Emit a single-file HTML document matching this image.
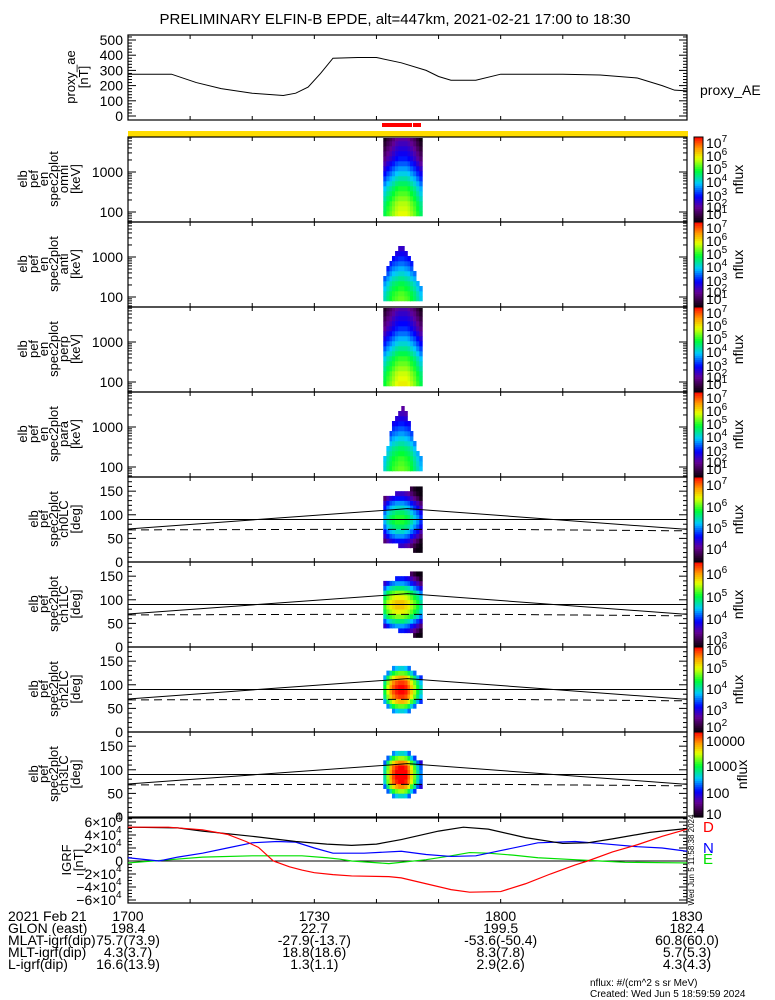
<!DOCTYPE html>
<html><head><meta charset="utf-8"><style>
html,body{margin:0;padding:0;background:#fff;}
svg{display:block;font-family:"Liberation Sans",sans-serif;}
</style></head><body>
<svg id="fig" width="775" height="1000" viewBox="0 0 775 1000" xmlns="http://www.w3.org/2000/svg">
<text x="395" y="24" font-size="15" text-anchor="middle">PRELIMINARY ELFIN-B EPDE, alt=447km, 2021-02-21 17:00 to 18:30</text>
<g id="g"></g>
</svg>
<script>
// ---------- data ----------
const aeTimes = [0,7,11,15,20,25,27,29,31,33,37,40,44,48,50,52,56,60,70,76,82,86,88,90];
const aeValues = [275,275,220,180,150,135,150,190,280,380,385,385,350,300,260,235,235,275,275,270,250,200,170,165];
const specColTimes = [41.1,41.6,42.1,42.5,43.0,43.5,44.0,44.5,45.0,45.4,45.9,46.4,46.9];
const omniSpec = [5.2,5.1,5.0,4.8,4.6,4.4,4.1,3.8,3.5,3.2,2.9,2.6,2.4,2.2,2.0,1.8];
const omniCol = [-0.7,-0.4,-0.2,0,0.2,0.3,0.3,0.3,0.2,0,-0.2,-0.5,-0.8];
const omniMax = [16,16,16,16,16,16,16,16,16,16,16,16,16];
const antiSpec = [4.8,4.7,4.5,4.3,4.0,3.7,3.4,3.1,2.8,2.5,2.2,2.0,1.8,1.6,1.4,1.2];
const antiCol = [-0.8,-0.5,-0.2,0,0.1,0.2,0.2,0.1,0,-0.2,-0.4,-0.7,-1.0];
const antiMax = [5,7,8,9,10,11,11,10,9,8,6,4,3];
const perpSpec = [5.3,5.2,5.1,4.9,4.7,4.5,4.2,3.9,3.6,3.3,3.0,2.7,2.5,2.3,2.1,1.9];
const perpCol = [-0.7,-0.4,-0.2,0,0.2,0.3,0.3,0.3,0.2,0,-0.2,-0.5,-0.8];
const perpMax = [16,16,16,16,16,16,16,16,16,16,16,16,16];
const paraSpec = [4.8,4.7,4.6,4.4,4.2,3.9,3.6,3.3,3.0,2.7,2.4,2.1,1.9,1.7,1.5,1.3];
const paraCol = [-0.9,-0.5,-0.2,0,0.1,0.2,0.2,0.1,0,-0.2,-0.5,-0.8,-1.1];
const paraMax = [3,5,8,10,11,12,13,12,10,8,6,4,3];
const pa01Lo = [45,43,41,39,37,35,33,31,29,27,25,22,20];
const pa01Hi = [138,140,142,144,146,148,150,152,154,155,156,157,159];
const pa23Lo = [60,55,50,45,43,42,42,43,45,50,55,60,65];
const pa23Hi = [120,125,130,135,137,138,138,137,135,130,125,120,115];
const ch0Prof = [3.5,3.6,3.8,4.0,4.3,4.7,5.0,5.3,5.5,5.5,5.3,5.0,4.7,4.3,4.0,3.8,3.6,3.5];
const ch0Col = [-0.5,-0.2,0,0.1,0.2,0.2,0.2,0.1,0,-0.2,-0.4,-0.6,-0.9];
const ch1Prof = [2.8,3.0,3.3,3.7,4.1,4.6,5.1,5.4,5.6,5.6,5.4,5.1,4.6,4.1,3.7,3.3,3.0,2.8];
const ch1Col = [-0.5,-0.2,0,0.1,0.2,0.2,0.2,0.1,0,-0.2,-0.4,-0.6,-0.9];
const ch2Prof = [2,2.3,2.7,3.2,3.8,4.6,5.3,5.8,6.0,6.0,5.8,5.3,4.6,3.8,3.2,2.7,2.3,2];
const ch2Col = [-1.6,-1.0,-0.5,-0.2,0,0.1,0.1,0,-0.3,-0.7,-1.1,-1.6,-2.0];
const ch3Prof = [1,1.3,1.6,2.0,2.5,3.2,3.8,4.2,4.3,4.3,4.2,3.8,3.2,2.5,2.0,1.6,1.3,1];
const ch3Col = [-1.6,-1.0,-0.5,-0.2,0,0.1,0.1,0,-0.3,-0.7,-1.1,-1.6,-2.0];
const lcTimes = [0,45,90];
const lcUpper = [70,113,69];
const lcDashTimes = [0,30,60,90];
const lcDash = [68,69,69,66];
const bTotT = [0,8,12,20,27,32,36,40,44,50,54,58,64,70,74,78,84,90];
const bTot = [5.2,5.1,4.6,3.8,3.0,2.6,2.4,2.6,3.3,4.6,5.2,4.9,3.6,2.7,2.8,3.4,4.4,5.0];
const bDT = [0,6.5,12,16,19,21,23.4,26,28,30,33,36,42,44,48,52,55,60,64,68,72,74,78,82,86,90];
const bD = [5.2,5.2,4.8,4.1,3.0,2.1,0,-0.9,-1.4,-1.8,-2.1,-2.3,-2.4,-2.6,-3.5,-4.4,-4.8,-4.7,-3.5,-2.0,-0.6,0,1.4,2.5,3.8,4.9];
const bNT = [0,5,8,12,16,20,24,27,30,33,38,44,48,52,56,60,66,72,76,82,86,90];
const bN = [0.5,0,0.6,1.2,2.0,2.8,3.0,2.9,2.0,1.2,1.2,1.5,1.0,0.7,0.8,1.6,2.8,3.0,2.7,2.2,2.0,1.5];
const bET = [0,4,8,12,20,28,32,34,36,42,48,52,55,58,62,66,72,76,80,90];
const bE = [-0.3,0,0.3,0.6,0.8,0.8,0.5,0.3,0,-0.4,0.2,0.8,1.3,1.2,0.9,0.5,0.2,0,-0.2,-0.3];
const rowLabels = ["2021 Feb 21","GLON (east)","MLAT-igrf(dip)","MLT-igrf(dip)","L-igrf(dip)"];
const col1700 = ["1700","198.4","75.7(73.9)","4.3(3.7)","16.6(13.9)"];
const col1730 = ["1730","22.7","-27.9(-13.7)","18.8(18.6)","1.3(1.1)"];
const col1800 = ["1800","199.5","-53.6(-50.4)","8.3(7.8)","2.9(2.6)"];
const col1830 = ["1830","182.4","60.8(60.0)","5.7(5.3)","4.3(4.3)"];

// ---------- helpers ----------
const NS="http://www.w3.org/2000/svg";
const G=document.getElementById('g');
const X0=128,X1=687;
const xT=t=>X0+t/90*(X1-X0);
function mk(tag,attrs,parent){const e=document.createElementNS(NS,tag);for(const k in attrs)e.setAttribute(k,attrs[k]);(parent||G).appendChild(e);return e;}
function txt(s,x,y,attrs,parent){const e=mk('text',Object.assign({x:x,y:y,'font-size':14},attrs||{}),parent);e.textContent=s;return e;}
const stops=[[0,[10,0,15]],[0.07,[50,0,60]],[0.17,[100,0,150]],[0.3,[0,0,255]],[0.45,[0,200,255]],[0.6,[0,255,50]],[0.75,[230,255,0]],[0.86,[255,160,0]],[1,[255,0,0]]];
function cmap(t){t=Math.max(0,Math.min(1,t));for(let i=1;i<stops.length;i++){if(t<=stops[i][0]){const a=stops[i-1],b=stops[i];const f=(t-a[0])/(b[0]-a[0]);const c=a[1].map((v,k)=>Math.round(v+(b[1][k]-v)*f));return `rgb(${c[0]},${c[1]},${c[2]})`;}}return 'rgb(255,0,0)';}

function frame(top,h,name){
  const r=mk('rect',{x:X0,y:top,width:X1-X0,height:h,fill:'none',stroke:'#000','stroke-width':1.2});
  
  
  for(let t=10;t<90;t+=10){
    mk('line',{x1:xT(t),x2:xT(t),y1:top,y2:top+4,stroke:'#000'});
    mk('line',{x1:xT(t),x2:xT(t),y1:top+h,y2:top+h-4,stroke:'#000'});
  }
}
function yTick(y,len){mk('line',{x1:X0,x2:X0+len,y1:y,y2:y,stroke:'#000'});mk('line',{x1:X1,x2:X1-len,y1:y,y2:y,stroke:'#000'});}
function leftLabel(lines,xs,cy,name){
  const gg=mk('g',{});
  
  
  lines.forEach((s,i)=>{txt(s,0,0,{'text-anchor':'middle','font-size':13,transform:`translate(${xs[i]+5},${cy}) rotate(-90)`},gg);});
}

// ---------- top panel: proxy AE ----------
(function(){
  const top=35,h=85;
  const yv=v=>116-v*0.152;
  frame(top,h,'proxy-ae-panel');
  for(let v=0;v<=520;v+=20){ if(yv(v)>top) yTick(yv(v),v%100===0?8:4);}
  [0,100,200,300,400,500].forEach(v=>{const e=txt(String(v),123,yv(v)+5,{'text-anchor':'end'});});
  const pts=aeTimes.map((t,i)=>xT(t)+','+yv(aeValues[i])).join(' ');
  const l=mk('polyline',{points:pts,fill:'none',stroke:'#000','stroke-width':1});
  
  
  leftLabel(['proxy_ae','[nT]'],[70,83],77,'proxy-ae-y-axis-title');
  const lt=txt('proxy_AE',700,95,{});
  
  
})();
// science zone bars
(function(){
  const r1=mk('rect',{x:382,y:123,width:30,height:4,fill:'#ff0000'});
  
  
  const r2=mk('rect',{x:413,y:123,width:8,height:4,fill:'#ff0000'});
  
  
  const y=mk('rect',{x:X0,y:131,width:X1-X0+1,height:6,fill:'#ffdd00'});
  
  
})();

// colorbar
function colorbar(top,h,labels,name){
  const gg=mk('g',{});
  
  
  const n=40;
  for(let i=0;i<n;i++){mk('rect',{x:694,y:top+i*h/n,width:9,height:h/n+0.6,fill:cmap(1-(i+0.5)/n)},gg);}
  mk('rect',{x:694,y:top,width:9,height:h,fill:'none',stroke:'#000'},gg);
  labels.forEach(l=>{
    const e=txt(l[0],706,top+l[1]+5,{'font-size':14},gg);
    if(l[2]){const s=mk('tspan',{dy:-6,'font-size':10},e);s.textContent=l[2];}
  });
  txt('nflux',0,0,{'font-size':14,'text-anchor':'middle',transform:`translate(${l5(name)},${top+h/2}) rotate(-90)`},gg);
}
function l5(n){return n.indexOf('ch3')>=0?747:743;}

// energy panels
const ePanels=[
  {top:137,spec:omniSpec,col:omniCol,max:omniMax,lab:'omni'},
  {top:222,spec:antiSpec,col:antiCol,max:antiMax,lab:'anti'},
  {top:307,spec:perpSpec,col:perpCol,max:perpMax,lab:'perp'},
  {top:392,spec:paraSpec,col:paraCol,max:paraMax,lab:'para'}];
const eCbLabels=[['10',6,'7'],['10',19,'6'],['10',32,'5'],['10',45,'4'],['10',59,'3'],['10',70,'2'],['10',77,'1']];
ePanels.forEach(p=>{
  const top=p.top,h=85;
  const yE=le=>top+35-(le-3)*40;
  const gg=mk('g',{});
  
  
  specColTimes.forEach((t,c)=>{
    for(let r=0;r<p.spec.length;r++){
      if(r>=p.max[c]) continue;
      const v=p.spec[r]+p.col[c];
      if(v<1) continue;
      const y1=yE(1.9+0.125*(r+1)),y0=yE(1.9+0.125*r);
      const yt=Math.max(y1,top+1);
      if(yt>=y0) continue;
      const cell=mk('rect',{x:xT(t),y:yt,width:xT(0.5)-X0+0.3,height:y0-yt+0.3,fill:cmap((v-1)/6)},gg);
      
      
    }
  });
  frame(top,h,'energy-panel-'+p.lab);
  for(let d=1;d<=3;d++){for(let m=1;m<=9;m++){const le=d+Math.log10(m);const y=yE(le);if(y>top&&y<top+h)yTick(y,m===1?8:4);}}
  txt('1000',123,yE(3)+5,{'text-anchor':'end'});
  txt('100',123,yE(2)+5,{'text-anchor':'end'});
  leftLabel(['elb','pef','en','spec2plot',p.lab,'[keV]'],[22,33,43,53,63,75],top+42,'energy-panel-y-title-'+p.lab);
  colorbar(top,h,eCbLabels,'colorbar-'+p.lab);
});

// pitch panels
const pPanels=[
  {top:477,prof:ch0Prof,col:ch0Col,lo:pa01Lo,hi:pa01Hi,mn:3.3,mx:7.2,lab:'ch0LC',cb:[['10',8,'7'],['10',30,'6'],['10',51,'5'],['10',72,'4']]},
  {top:562,prof:ch1Prof,col:ch1Col,lo:pa01Lo,hi:pa01Hi,mn:2.7,mx:6.5,lab:'ch1LC',cb:[['10',12,'6'],['10',35,'5'],['10',57,'4'],['10',78,'3']]},
  {top:647,prof:ch2Prof,col:ch2Col,lo:pa23Lo,hi:pa23Hi,mn:1.9,mx:6.1,lab:'ch2LC',cb:[['10',3,'6'],['10',21,'5'],['10',42,'4'],['10',63,'3'],['10',80,'2']]},
  {top:732,prof:ch3Prof,col:ch3Col,lo:pa23Lo,hi:pa23Hi,mn:0.96,mx:4.3,lab:'ch3LC',cb:[['10000',9],['1000',34],['100',61],['10',82]]}];
pPanels.forEach(p=>{
  const top=p.top,h=85;
  const yP=a=>top+(180-a)/180*h;
  const gg=mk('g',{});
  
  
  specColTimes.forEach((t,c)=>{
    for(let r=0;r<18;r++){
      const ctr=r*10+5;
      if(ctr<p.lo[c]||ctr>p.hi[c]) continue;
      const v=p.prof[r]+p.col[c];
      const cell=mk('rect',{x:xT(t),y:yP(r*10+10),width:xT(0.5)-X0+0.3,height:yP(r*10)-yP(r*10+10)+0.3,fill:cmap((v-p.mn)/(p.mx-p.mn))},gg);
      
      
    }
  });
  frame(top,h,'pitch-panel-'+p.lab);
  for(let a=0;a<=180;a+=10){const y=yP(a);if(y>top&&y<top+h)yTick(y,a%50===0?8:4);}
  [0,50,100,150].forEach(a=>txt(String(a),123,yP(a)+5,{'text-anchor':'end'}));
  const hl=mk('line',{x1:X0,x2:X1,y1:yP(90),y2:yP(90),stroke:'#000'});
  
  
  const up=mk('polyline',{points:lcTimes.map((t,i)=>xT(t)+','+yP(lcUpper[i])).join(' '),fill:'none',stroke:'#000'});
  
  
  const dl=mk('polyline',{points:lcDashTimes.map((t,i)=>xT(t)+','+yP(lcDash[i])).join(' '),fill:'none',stroke:'#000','stroke-dasharray':'8,5'});
  
  
  leftLabel(['elb','pef','spec2plot',p.lab,'[deg]'],[33,43,53,63,75],top+42,'pitch-panel-y-title-'+p.lab);
  colorbar(top,h,p.cb,'colorbar-'+p.lab);
});

// IGRF panel
(function(){
  const top=818,h=85;
  const yB=v=>861-v*6.5;
  frame(top,h,'igrf-panel');
  for(let v=-6.5;v<=6.5;v+=0.5){const y=yB(v);if(y>top&&y<top+h)yTick(y,Math.abs(v%2)<0.01?8:4);}
  [6,4,2,0,-2,-4,-6].forEach(v=>{
    if(v===0){txt('0',123,yB(0)+5,{'text-anchor':'end'});return;}
    txt((v<0?'−':'')+Math.abs(v)+'×10',116,yB(v)+5,{'text-anchor':'end'});
    txt('4',116,yB(v)-2,{'font-size':10});
  });
  mk('line',{x1:X0,x2:X1,y1:yB(0),y2:yB(0),stroke:'#000'});
  const series=[[bET,bE,'#00e000','igrf-e-line'],[bNT,bN,'#0000ff','igrf-n-line'],[bTotT,bTot,'#000','igrf-total-line'],[bDT,bD,'#ff0000','igrf-d-line']];
  series.forEach(s=>{
    const l=mk('polyline',{points:s[0].map((t,i)=>xT(t)+','+yB(s[1][i])).join(' '),fill:'none',stroke:s[2],'stroke-width':1.2});
    
    
  });
  leftLabel(['IGRF','[nT]'],[66,78],860,'igrf-y-axis-title');
  [['D',832,'#ff0000'],['N',853,'#0000ff'],['E',864,'#00e000']].forEach(d=>{const e=txt(d[0],703,d[1],{fill:d[2],'font-size':15});});
  txt('Wed Jun  5 11:58:38 2024',0,0,{'font-size':8,'text-anchor':'middle',transform:'translate(694,860) rotate(-90)'});
})();

// bottom annotation table
(function(){
  const rowsY=[921,933,945,957,969];
  const gg=mk('g',{});
  
  
  rowLabels.forEach((s,i)=>txt(s,8,rowsY[i],{'font-size':14},gg));
  const cols=[col1700,col1730,col1800,col1830];
  [0,30,60,90].forEach((t,k)=>{
    cols[k].forEach((s,i)=>txt(s,xT(t),rowsY[i],{'font-size':14,'text-anchor':'middle'},gg));
  });
  const f1=txt('nflux: #/(cm^2 s sr MeV)',590,986,{'font-size':10});
  
  
  const f2=txt('Created: Wed Jun  5 18:59:59 2024',590,997,{'font-size':10});
  
  
})();
</script>
</body></html>
